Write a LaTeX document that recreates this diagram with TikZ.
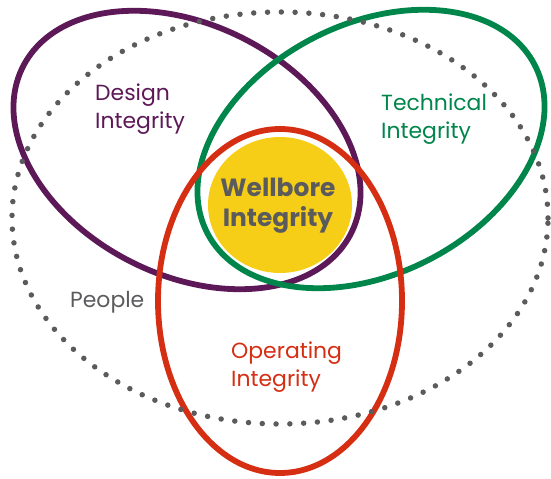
\documentclass[tikz,border=0pt]{standalone}
\usepackage{fontspec}
\setmainfont{Poppins}
\usepackage{xcolor}
\usetikzlibrary{positioning}

\definecolor{designpurple}{HTML}{5D1857}
\definecolor{techgreen}{HTML}{00854A}
\definecolor{operred}{HTML}{D52E12}
\definecolor{boreyellow}{HTML}{F6CE17}
\definecolor{peoplegray}{HTML}{5B5B5D}

\begin{document}
\begin{tikzpicture}[x=1bp,y=1bp,
  ring/.style={line width=5.8bp},
  label/.style={font=\fontsize{22}{29}\selectfont,align=left,anchor=base west,inner sep=0pt}]
\useasboundingbox (0,0) rectangle (551,479);
% wellbore in the middle
\fill[boreyellow](280,274) ellipse [x radius=72,y radius=68];
% the three integrity rings
\draw[ring,designpurple](187,329) ellipse [x radius=184,y radius=125,rotate=-27];
\draw[ring,techgreen](371,330) ellipse [x radius=184,y radius=125,rotate=27];
\draw[ring,operred](280,178) ellipse [x radius=122,y radius=172];
% people all around
\draw[peoplegray,line width=5.5bp,line cap=round,dash pattern=on 0bp off 13.8bp](280,261) ellipse [x radius=268,y radius=206];
% labels (base = last line)
\node[label,designpurple] (design) at (95,350) {Design\\Integrity};
\node[label,techgreen] (technical) at (381,340) {Technical\\Integrity};
\node[label,operred] (operating) at (231,92) {Operating\\Integrity};
\node[label,peoplegray] (people) at (70,171) {People};
\node[peoplegray,font=\fontsize{25}{31}\selectfont\bfseries,align=center,anchor=base,inner sep=0pt] (wellbore) at (278,252) {Wellbore\\Integrity};
\end{tikzpicture}
\end{document}
